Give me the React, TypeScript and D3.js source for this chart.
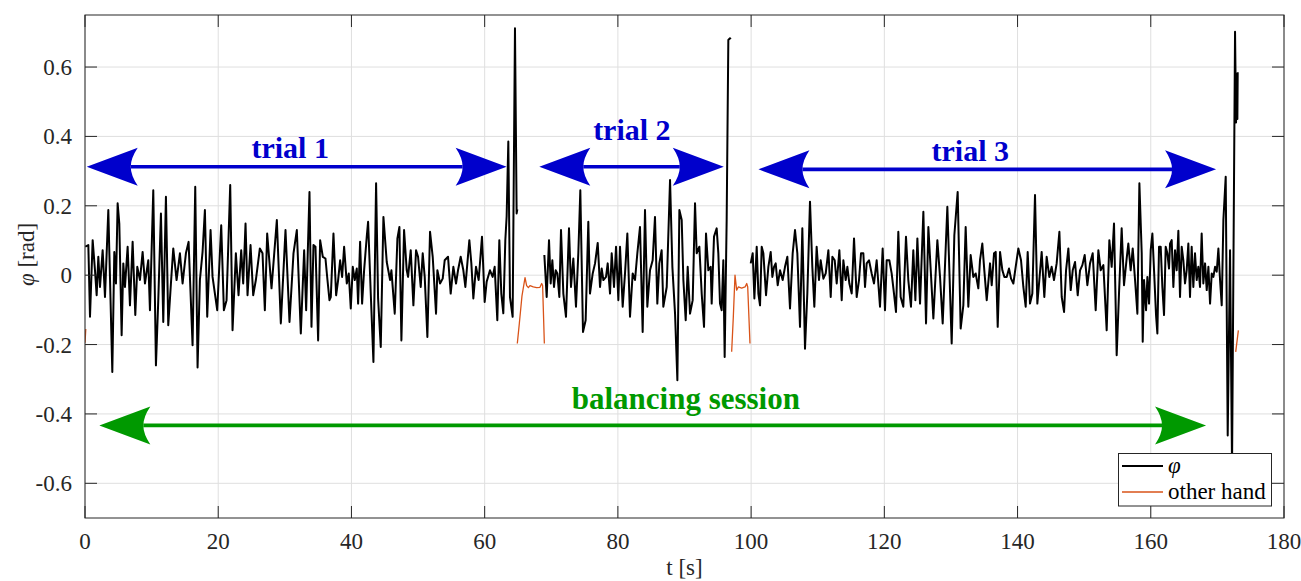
import React from 'react';
import * as d3 from 'd3';

// ---------- data ----------
const trial1Time = [0.05,0.5,0.75,1.15,1.5,1.75,2.0,2.25,2.65,3.0,3.5,4.1,4.4,4.65,4.9,5.15,5.5,5.75,6.0,6.4,6.75,7.15,7.55,7.85,8.25,8.65,9.0,9.5,9.75,10.25,10.65,11.0,11.4,11.75,12.15,12.5,12.9,13.25,13.75,14.25,14.65,15.15,15.55,16.15,16.55,16.9,17.25,17.65,18.0,18.35,18.85,19.15,19.85,20.45,20.85,21.25,21.8,22.15,22.65,23.05,23.45,23.75,24.1,24.4,24.85,25.25,25.65,26.25,26.65,27.0,27.35,28.0,28.8,29.4,30.1,30.7,31.3,31.8,
32.4,32.9,33.2,33.7,34.0,34.3,34.6,35.0,35.3,35.7,36.1,36.4,36.7,36.9,37.3,37.7,38.0,38.3,38.6,38.9,39.3,39.6,39.9,40.2,40.5,40.8,41.0,41.3,41.6,41.9,42.3,42.5,42.9,43.3,43.7,44.0,44.4,44.8,45.3,45.8,46.0,46.5,46.9,47.2,47.5,47.9,48.3,48.5,48.9,49.3,49.7,50.0,50.4,50.7,51.0,51.4,51.8,52.2,52.7,52.9,53.3,53.7,54.0,54.5,54.9,55.3,55.7,56.0,56.4,56.8,57.1,57.4,57.7,58.0,58.3,58.7,59.1,59.6,60.0,60.3,60.8,61.2,61.5,61.9,62.2,62.5,
62.8,63.1,63.3,63.55,63.8,64.2,64.55,64.8,64.9];
const trial1Phi = [0.082,0.087,-0.120,0.101,0.014,-0.058,0.053,-0.034,0.072,-0.063,0.188,-0.279,0.067,-0.024,0.207,0.149,-0.173,0.034,-0.034,0.082,-0.087,0.096,-0.115,0.024,-0.014,0.067,-0.024,0.043,-0.101,0.245,-0.260,-0.072,0.178,-0.135,0.226,-0.144,-0.024,0.077,-0.014,0.063,-0.024,0.063,0.096,-0.202,0.255,-0.266,-0.014,0.067,0.188,-0.120,0.130,-0.005,-0.101,0.144,-0.101,-0.072,0.260,-0.159,0.063,-0.058,0.072,-0.024,0.149,-0.058,0.087,-0.058,-0.014,0.077,0.063,-0.101,0.120,-0.038,0.159,-0.139,0.130,-0.135,0.063,0.130,
-0.168,0.072,-0.101,0.240,-0.149,0.087,0.082,-0.188,0.101,0.053,0.048,-0.014,-0.072,-0.063,0.120,-0.058,-0.014,0.043,-0.005,0.082,-0.024,0.005,-0.096,0.024,-0.014,0.019,-0.082,0.096,-0.082,0.014,0.111,0.154,-0.053,-0.250,0.265,-0.067,-0.207,0.168,0.038,-0.014,0.014,-0.111,0.106,0.139,-0.188,0.130,0.014,-0.005,0.072,-0.087,0.072,0.053,-0.034,0.063,-0.005,-0.178,0.125,0.053,-0.111,0.014,-0.024,-0.010,0.043,0.053,-0.053,0.024,-0.024,0.014,0.053,0.014,-0.034,0.034,0.101,0.034,-0.067,0.024,-0.014,0.111,-0.077,-0.019,0.014,-0.005,0.024,-0.130,0.101,-0.053,
-0.110,0.100,0.170,0.385,-0.063,-0.120,0.712,0.178,0.190];

const trial2Time = [68.96,69.31,69.66,69.91,70.16,70.41,70.66,70.91,71.21,71.46,71.81,72.21,72.66,72.96,73.31,73.71,74.06,74.36,74.76,75.16,75.56,75.81,76.22,76.57,76.97,77.32,77.57,77.82,78.22,78.47,78.82,79.07,79.42,79.72,80.07,80.32,80.72,81.07,81.42,81.82,82.22,82.57,82.92,83.32,83.72,84.07,84.42,84.82,85.22,85.57,85.92,86.22,86.57,86.82,87.33,87.83,88.18,88.58,88.93,89.23,89.58,89.83,90.18,90.48,90.83,91.23,91.58,91.83,92.23,92.58,92.93,93.23,93.58,93.93,94.08,94.43,94.83,95.08,95.33,95.58,95.83,96.03,96.33,96.58,96.83,96.93];
const trial2Phi = [0.058,-0.063,0.101,-0.024,0.043,-0.034,0.014,0.005,-0.063,0.130,-0.053,-0.120,0.135,-0.034,0.048,-0.091,0.063,0.245,-0.164,-0.130,0.154,-0.053,0.005,0.034,0.093,-0.034,0.019,-0.014,-0.005,0.034,-0.053,0.063,-0.034,0.082,-0.072,0.082,-0.091,0.005,0.120,-0.120,0.005,-0.014,0.063,0.139,-0.164,0.188,-0.091,0.014,0.043,0.168,-0.082,0.034,0.072,-0.091,-0.034,0.274,0.024,-0.111,-0.303,0.188,0.159,-0.014,-0.130,0.024,-0.111,-0.072,0.207,0.063,0.082,-0.053,-0.149,0.120,0.014,0.024,-0.082,0.111,0.135,0.063,-0.082,-0.101,0.043,-0.236,0.159,0.678,0.683,0.680];

const trial3Time = [99.94,100.24,100.49,100.84,101.09,101.34,101.59,101.84,102.24,102.59,102.94,103.19,103.44,103.69,103.99,104.34,104.74,105.09,105.44,105.84,106.24,106.59,106.94,107.34,107.69,108.09,108.44,108.84,109.19,109.49,109.84,110.19,110.44,110.85,111.2,111.6,111.95,112.2,112.55,112.85,113.25,113.6,113.85,114.2,114.45,114.75,115.1,115.45,115.85,116.2,116.5,116.85,117.1,117.35,117.7,118.1,118.45,118.85,119.35,119.75,120.1,120.35,120.75,121.1,121.45,121.75,122.1,122.45,122.85,123.25,123.6,124.0,124.35,124.66,124.96,125.36,125.86,126.26,126.61,127.36,127.96,128.36,128.76,129.46,130.11,130.51,131.01,131.46,131.86,132.21,132.61,132.96,133.36,133.71,134.11,134.36,134.71,135.01,135.37,135.87,136.12,136.47,136.72,137.02,137.37,137.72,138.02,138.37,138.72,139.02,139.37,139.72,140.12,140.52,140.87,141.22,141.52,141.87,142.22,142.62,142.97,143.27,143.62,144.02,144.37,144.77,145.12,145.47,145.87,146.28,146.63,146.98,147.28,147.63,147.98,148.28,148.63,149.03,149.38,149.73,150.08,150.48,150.88,151.28,151.73,152.13,152.48,152.88,153.38,153.78,154.13,154.48,154.88,155.23,155.63,155.98,156.38,156.63,156.98,157.29,157.64,157.99,158.29,158.64,158.79,158.99,159.29,159.49,159.74,159.99,160.24,160.49,160.79,160.99,161.24,161.49,161.74,161.99,162.24,162.49,162.74,162.89,163.14,163.39,163.64,163.89,164.14,164.39,164.64,164.89,165.14,165.39,165.64,165.89,166.14,166.39,166.64,166.89,167.14,167.39,167.64,167.89,168.15,168.4,168.65,168.9,169.15,169.4,169.65,169.9,170.15,170.4,170.65,170.9,171.25,171.55,171.9,172.2,172.65,172.8,172.9,173.0,173.05];
const trial3Phi = [0.034,0.063,-0.067,0.082,-0.053,-0.087,0.082,0.063,-0.058,0.024,0.067,-0.005,0.024,0.034,-0.029,0.014,-0.014,0.024,0.053,-0.096,0.063,0.130,0.063,-0.149,0.135,-0.212,-0.053,0.212,0.024,-0.091,0.082,-0.014,0.043,-0.010,0.005,0.072,-0.063,0.053,0.043,-0.024,0.072,-0.072,0.043,-0.014,0.024,-0.024,-0.053,0.106,-0.063,-0.014,0.063,0.063,-0.034,0.034,0.043,0.005,-0.024,0.043,-0.091,0.077,-0.101,0.043,0.043,0.005,-0.053,-0.106,0.125,-0.063,-0.091,0.111,-0.014,-0.091,0.072,-0.072,0.106,-0.082,0.183,-0.139,0.139,-0.125,0.101,-0.005,-0.139,0.197,-0.197,0.115,0.240,-0.154,-0.087,0.139,-0.091,0.058,-0.005,0.005,-0.038,0.043,0.091,0.014,-0.072,0.034,-0.029,0.063,0.067,-0.149,0.067,0.014,-0.005,-0.005,0.019,-0.010,-0.024,0.024,0.077,0.043,-0.034,-0.091,0.067,-0.082,-0.053,0.231,-0.082,-0.014,0.067,-0.063,0.053,-0.005,0.024,-0.014,0.034,0.125,-0.063,-0.106,0.014,0.077,-0.043,0.014,0.038,-0.058,0.014,0.029,0.058,-0.029,0.034,0.063,-0.101,0.072,0.014,0.029,-0.159,0.101,0.024,0.149,-0.231,-0.053,0.135,-0.029,0.048,0.091,0.014,0.077,-0.014,-0.111,0.265,0.063,-0.192,-0.014,-0.101,-0.005,-0.082,0.072,0.120,0.014,-0.115,-0.168,0.082,0.082,-0.034,-0.115,0.082,0.063,0.019,0.091,0.101,-0.034,0.072,0.014,0.128,-0.063,0.082,0.043,-0.024,0.014,0.091,-0.063,0.082,-0.034,0.063,-0.014,0.024,-0.034,0.120,-0.024,0.034,-0.043,0.024,-0.082,0.005,-0.005,0.024,0.010,0.077,-0.014,-0.087,0.159,0.284,-0.462,0.072,-0.550,0.702,0.440,0.580,0.450,0.585];

const otherHandTime = [0.0,0.12,NaN,64.9,65.2,65.6,66.06,66.3,66.56,66.8,67.3,67.8,68.3,68.56,68.7,68.96,NaN,97.08,97.33,97.58,97.83,98.08,98.58,99.09,99.34,99.49,99.83,NaN,172.75,173.15];
const otherHandPhi = [-0.195,-0.155,NaN,-0.197,-0.14,-0.06,-0.007,-0.03,-0.036,-0.03,-0.034,-0.036,-0.035,-0.024,-0.03,-0.197,NaN,-0.221,-0.12,0.0,-0.043,-0.034,-0.037,-0.034,-0.024,-0.034,-0.197,NaN,-0.221,-0.159];

const xTicks = [0, 20, 40, 60, 80, 100, 120, 140, 160, 180];
const yTicks = [-0.6, -0.4, -0.2, 0, 0.2, 0.4, 0.6];

// annotations (data units)
const arrowLabels = ['trial 1', 'trial 2', 'trial 3', 'balancing session'];
const arrowStart = [0.26, 68.2, 101.1, 2.15];
const arrowEnd = [63.3, 95.9, 169.8, 168.3];
const arrowLevel = [0.3125, 0.3125, 0.305, -0.433];
const labelTime = [30.8, 82.1, 132.9, 90.2];
const labelLevel = [0.337, 0.39, 0.329, -0.385];
const arrowColors = ['#0000cc', '#0000cc', '#0000cc', '#009900'];
const labelSizes = [30, 30, 30, 31];

const FONT = "'Liberation Serif', 'Times New Roman', serif";
const AXC = '#262626';

function head(tx: number, ty: number, dir: number): string {
  const L = 51, Wd = 19, n = 7;
  const bx = tx - dir * L;
  const nx = tx - dir * (L - n);
  return `M${tx},${ty}L${bx},${ty - Wd}Q${nx},${ty - Wd * 0.45} ${nx},${ty}Q${nx},${ty + Wd * 0.45} ${bx},${ty + Wd}Z`;
}

export default function App() {
  const left = 85, right = 1284, top = 15, bottom = 518;
  const x = d3.scaleLinear().domain([0, 180]).range([left, right]);
  const y = d3.scaleLinear().domain([-0.7, 0.75]).range([bottom, top]);
  const line = d3
    .line<[number, number]>()
    .defined((d) => !isNaN(d[0]) && !isNaN(d[1]))
    .x((d) => x(d[0]))
    .y((d) => y(d[1]));

  const trials = [
    d3.zip(trial1Time, trial1Phi),
    d3.zip(trial2Time, trial2Phi),
    d3.zip(trial3Time, trial3Phi),
  ] as [number, number][][];
  const other = d3.zip(otherHandTime, otherHandPhi) as [number, number][];
  const tk = 12;

  return (
    <svg
      width={1301}
      height={581}
      style={{ position: 'absolute', left: 0, top: 0, background: '#fff' }}
      fontFamily={FONT}
    >
      <defs>
        <clipPath id="plotclip">
          <rect x={left} y={top} width={right - left} height={bottom - top} />
        </clipPath>
      </defs>
      <rect x={0} y={0} width={1301} height={581} fill="#fff" />
      {/* grid */}
      {xTicks.map((t) => (
        <line key={'gx' + t} x1={x(t)} x2={x(t)} y1={top} y2={bottom} stroke="#dfdfdf" strokeWidth={1} />
      ))}
      {yTicks.map((t) => (
        <line key={'gy' + t} x1={left} x2={right} y1={y(t)} y2={y(t)} stroke="#dfdfdf" strokeWidth={1} />
      ))}
      {/* data */}
      <g clipPath="url(#plotclip)">
        {trials.map((tr, i) => (
          <path key={'tr' + i} d={line(tr) || ''} fill="none" stroke="#000" strokeWidth={2} strokeLinejoin="round" />
        ))}
        <path d={line(other) || ''} fill="none" stroke="#d95319" strokeWidth={1.3} strokeLinejoin="round" />
      </g>
      {/* annotations */}
      {arrowLabels.map((lab, i) => {
        const x0 = x(arrowStart[i]);
        const x1 = x(arrowEnd[i]);
        const yy = y(arrowLevel[i]);
        const c = arrowColors[i];
        return (
          <g key={'ar' + i}>
            <line x1={x0 + 44} x2={x1 - 44} y1={yy} y2={yy} stroke={c} strokeWidth={3.6} />
            <path d={head(x0, yy, -1)} fill={c} />
            <path d={head(x1, yy, 1)} fill={c} />
            <text
              x={x(labelTime[i])}
              y={y(labelLevel[i])}
              textAnchor="middle"
              fontWeight="bold"
              fontSize={labelSizes[i]}
              fill={c}
            >
              {lab}
            </text>
          </g>
        );
      })}
      {/* axes box & ticks */}
      <rect x={left} y={top} width={right - left} height={bottom - top} fill="none" stroke={AXC} strokeWidth={1} />
      {xTicks.map((t) => (
        <g key={'tx' + t}>
          <line x1={x(t)} x2={x(t)} y1={bottom} y2={bottom - tk} stroke={AXC} />
          <line x1={x(t)} x2={x(t)} y1={top} y2={top + tk} stroke={AXC} />
          <text x={x(t)} y={bottom + 31} textAnchor="middle" fontSize={23} fill={AXC}>
            {String(t)}
          </text>
        </g>
      ))}
      {yTicks.map((t) => (
        <g key={'ty' + t}>
          <line x1={left} x2={left + tk} y1={y(t)} y2={y(t)} stroke={AXC} />
          <line x1={right} x2={right - tk} y1={y(t)} y2={y(t)} stroke={AXC} />
          <text x={left - 13} y={y(t) + 8} textAnchor="end" fontSize={23} fill={AXC}>
            {t === 0 ? '0' : t.toFixed(1)}
          </text>
        </g>
      ))}
      <text x={(left + right) / 2} y={575} textAnchor="middle" fontSize={23} fill={AXC}>
        t [s]
      </text>
      <text transform={`translate(34,${(top + bottom) / 2 - 12}) rotate(-90)`} textAnchor="middle" fontSize={23} fill={AXC}>
        <tspan fontStyle="italic">φ</tspan> [rad]
      </text>
      {/* legend */}
      <g>
        <rect x={1118.5} y={453.5} width={153} height={52.5} fill="#fff" stroke={AXC} strokeWidth={1} />
        <line x1={1122} x2={1163} y1={466} y2={466} stroke="#000" strokeWidth={1.8} />
        <text x={1168} y={473} fontSize={23} fontStyle="italic" fill="#000">φ</text>
        <line x1={1122} x2={1163} y1={492} y2={492} stroke="#d95319" strokeWidth={1.5} />
        <text x={1168} y={499} fontSize={23} fill="#000">other hand</text>
      </g>
    </svg>
  );
}
